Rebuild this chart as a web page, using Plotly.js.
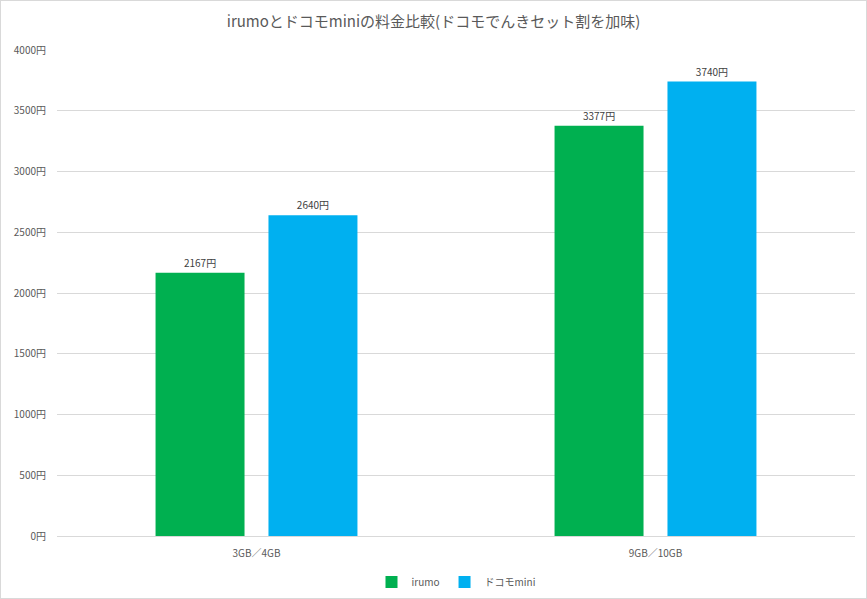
<!DOCTYPE html>
<html><head><meta charset="utf-8">
<script src="https://cdn.plot.ly/plotly-3.0.1.min.js"></script>
<style>html,body{margin:0;padding:0;background:#fff;}#c{width:867px;height:599px;box-sizing:border-box;border:1px solid #d9d9d9;}</style>
</head><body><div id="c"></div>
<script>
const categories = ["3GB／4GB", "9GB／10GB"];
const irumo = [2167, 3377];
const docomoMini = [2640, 3740];
const seriesNames = ["irumo", "ドコモmini"];
const yTicks = [0,500,1000,1500,2000,2500,3000,3500,4000];
const yTickText = yTicks.map(v => v + "円");

const font = "'Noto Sans CJK JP', 'Noto Sans', sans-serif";
function mk(name, vals, color){
  return {type:'bar', name:name, x:categories, y:vals, marker:{color:color},
    text: vals.map(v=>v+"円"), textposition:'outside', cliponaxis:false,
    textfont:{size:10, color:'#404040', family:font}, hoverinfo:'none'};
}
const data = [mk(seriesNames[0], irumo, '#00B050'), mk(seriesNames[1], docomoMini, '#00B0F0')];
const layout = {
  width:865, height:597,
  margin:{l:56, r:11, t:49, b:62, autoexpand:false},
  paper_bgcolor:'#fff', plot_bgcolor:'#fff',
  font:{family:font, color:'#595959', size:10},
  title:{text:"irumoとドコモminiの料金比較(ドコモでんきセット割を加味)", font:{size:15, color:'#595959', family:font}, x:0.5, xanchor:'center', y:0.965, yanchor:'middle'},
  barmode:'group', bargap:0.434, bargroupgap:0.212,
  xaxis:{showgrid:false, showline:true, linecolor:'#d9d9d9', ticks:'', ticklabelstandoff:8, tickfont:{size:10,color:'#595959'}, zeroline:false},
  yaxis:{range:[0,4000], tickvals:yTicks, ticktext:yTickText, showgrid:true, gridcolor:'#d9d9d9', zeroline:false, showline:false, ticks:'', ticklabelstandoff:10, tickfont:{size:10,color:'#595959'}, fixedrange:true},
  showlegend:true,
  legend:{orientation:'h', x:0.5, xanchor:'center', y:-0.065, yanchor:'top', font:{size:10,color:'#595959'}, itemwidth:30}
};
Plotly.newPlot('c', data, layout, {displayModeBar:false, staticPlot:true});
</script></body></html>
